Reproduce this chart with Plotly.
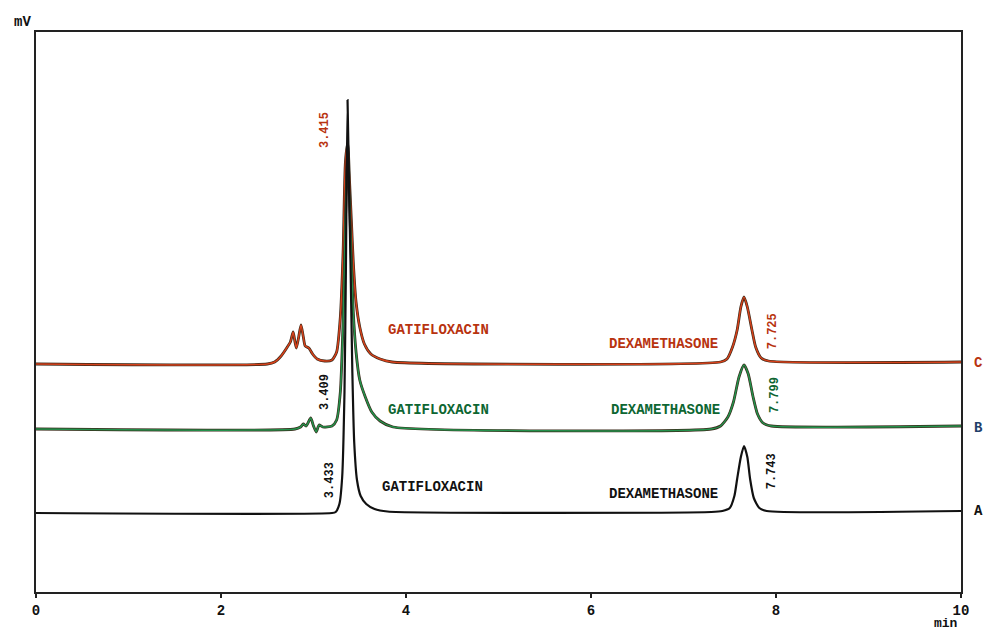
import plotly.graph_objects as go

# ---- data (time in min, signal in arbitrary mV units) ----
time_A = [0.0, 3.20, 3.24, 3.28, 3.31, 3.335, 3.35, 3.368, 3.385, 3.40, 3.42, 3.44, 3.47, 3.51,
          3.57, 3.66, 3.80, 7.30, 7.42, 7.50, 7.55, 7.58, 7.62, 7.654, 7.69, 7.72, 7.76, 7.82,
          7.90, 10.0]
sig_A = [79, 79, 80, 88, 115, 200, 320, 492, 400, 330, 220, 150, 112, 96,
         88, 83, 80.5, 80, 81, 84, 96, 113, 135, 146, 135, 113, 94, 84,
         81, 81]

time_B = [0.0, 2.80, 2.86, 2.89, 2.92, 2.97, 3.00, 3.03, 3.06, 3.10, 3.20, 3.25, 3.29, 3.32,
          3.345, 3.37, 3.39, 3.41, 3.43, 3.46, 3.50, 3.56, 3.63, 3.72, 3.86, 7.30, 7.40,
          7.48, 7.54, 7.60, 7.654, 7.70, 7.75, 7.80, 7.86, 7.95, 10.0]
sig_B = [163, 163, 165, 168, 166, 174, 166, 160, 167, 165, 166, 172, 200, 270,
         370, 442, 390, 330, 280, 240, 212, 195, 180, 171, 165, 163, 166,
         175, 190, 215, 227, 218, 196, 178, 169, 166, 166]

time_C = [0.0, 2.50, 2.58, 2.65, 2.71, 2.75, 2.78, 2.80, 2.815, 2.84, 2.865, 2.89, 2.91, 2.95,
          2.99, 3.04, 3.12, 3.20, 3.25, 3.29, 3.32, 3.345, 3.37, 3.39, 3.41, 3.43, 3.46,
          3.50, 3.55, 3.62, 3.72, 3.85, 7.40, 7.47, 7.53, 7.58, 7.62, 7.654, 7.69, 7.74,
          7.78, 7.84, 7.92, 10.0]
sig_C = [228, 228, 230, 236, 244, 250, 260, 250, 244, 255, 267, 255, 246, 244,
         238, 233, 231, 232, 240, 275, 340, 430, 449, 410, 370, 330, 290,
         265, 248, 238, 233, 230, 230, 233, 245, 262, 285, 295, 285, 262,
         245, 234, 231, 230]

x_ticks = [0, 2, 4, 6, 8, 10]
trace_names = ["A", "B", "C"]
compound_names = ["GATIFLOXACIN", "DEXAMETHASONE"]
rt_labels_A = ["3.433", "7.743"]
rt_labels_B = ["3.409", "7.799"]
rt_labels_C = ["3.415", "7.725"]

COL_A = "#111111"
COL_B = "#23924c"
COL_C = "#d6401a"
TXT_B = "#0d6632"
TXT_C = "#b8330f"
FONT = "Liberation Mono, Courier New, monospace"

fig = go.Figure()

def add_trace(t, s, color, under):
    if under:
        fig.add_trace(go.Scatter(x=t, y=s, mode="lines", line=dict(color="#3a2a1a", width=2.8,
                                 shape="spline", smoothing=0.6), hoverinfo="skip", showlegend=False))
        fig.add_trace(go.Scatter(x=t, y=s, mode="lines", line=dict(color=color, width=1.5,
                                 shape="spline", smoothing=0.6), showlegend=False))
    else:
        fig.add_trace(go.Scatter(x=t, y=s, mode="lines", line=dict(color=color, width=2.2,
                                 shape="spline", smoothing=0.6), showlegend=False))

add_trace(time_C, sig_C, COL_C, True)
add_trace(time_B, sig_B, COL_B, True)
add_trace(time_A, sig_A, COL_A, False)

ann = []
def txt(x, y, s, color, size=14, angle=0, xref="x", yref="y", xanchor="center"):
    ann.append(dict(x=x, y=y, xref=xref, yref=yref, text="<b>%s</b>" % s, showarrow=False,
                    font=dict(family=FONT, size=size, color=color), textangle=angle,
                    xanchor=xanchor, yanchor="middle"))

# compound names
txt(4.35, 262, compound_names[0], TXT_C)
txt(4.35, 182, compound_names[0], TXT_B)
txt(4.29, 105, compound_names[0], COL_A)
txt(6.78, 248, compound_names[1], TXT_C)
txt(6.80, 182, compound_names[1], TXT_B)
txt(6.78, 98, compound_names[1], COL_A)

# retention times (rotated)
txt(3.125, 462, rt_labels_C[0], TXT_C, 12, -90)
txt(3.125, 200, rt_labels_B[0], COL_A, 12, -90)
txt(3.18, 112, rt_labels_A[0], COL_A, 12, -90)
txt(7.97, 261, rt_labels_C[1], TXT_C, 12, -90)
txt(7.99, 197, rt_labels_B[1], TXT_B, 12, -90)
txt(7.96, 121, rt_labels_A[1], COL_A, 12, -90)

# trace letters on the right
txt(1.012, 229, trace_names[2], TXT_C, 14, 0, xref="paper", xanchor="left")
txt(1.012, 164, trace_names[1], "#1f3f6a", 14, 0, xref="paper", xanchor="left")
txt(1.012, 81, trace_names[0], COL_A, 14, 0, xref="paper", xanchor="left")

# axis titles
txt(-0.015, 1.018, "mV", COL_A, 14, 0, xref="paper", yref="paper")
txt(0.984, -0.056, "min", COL_A, 13, 0, xref="paper", yref="paper")

fig.update_layout(
    width=984, height=630,
    margin=dict(l=36, r=23, t=32, b=38),
    paper_bgcolor="white", plot_bgcolor="white",
    annotations=ann,
    xaxis=dict(range=[0, 10], tickvals=x_ticks, ticktext=["<b>%d</b>" % v for v in x_ticks],
               ticks="outside", ticklen=4, tickwidth=1.5, tickcolor="#222",
               showline=True, linecolor="#222", linewidth=2, mirror=True,
               showgrid=False, zeroline=False,
               tickfont=dict(family=FONT, size=14, color="#111")),
    yaxis=dict(range=[0, 560], showticklabels=False, ticks="",
               showline=True, linecolor="#222", linewidth=2, mirror=True,
               showgrid=False, zeroline=False),
)

fig.write_html("out.html", config={"displayModeBar": False},
               post_script="document.body.style.margin='0';document.body.style.overflow='hidden';")
